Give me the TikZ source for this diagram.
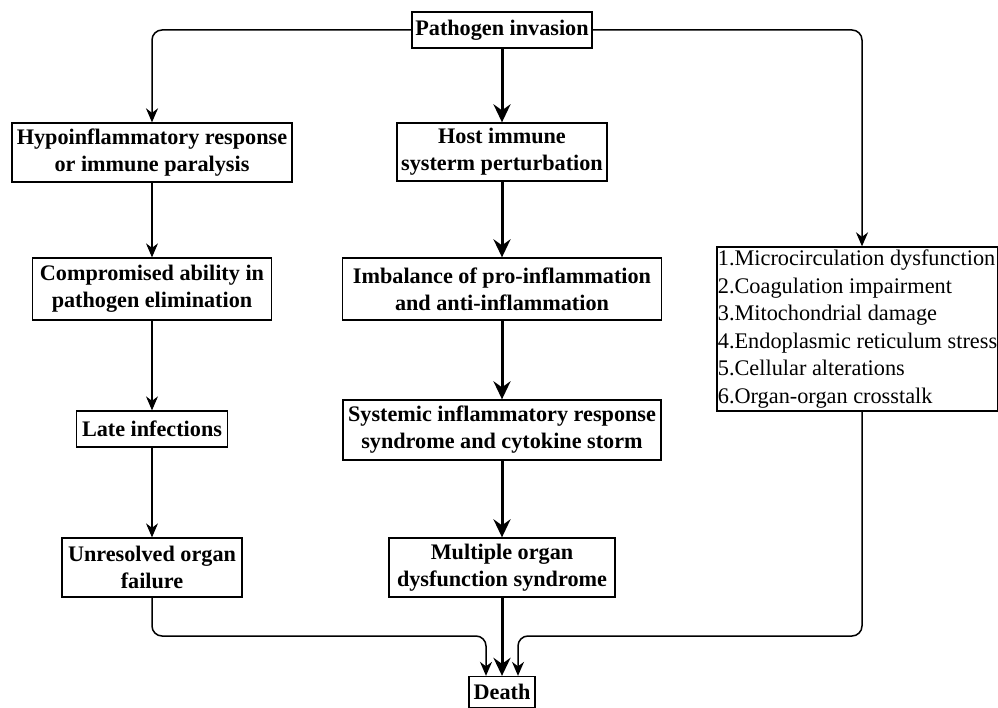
\documentclass[tikz,border=0pt]{standalone}
\usepackage{fontspec}
\setmainfont{Liberation Serif}
\usetikzlibrary{arrows.meta}
\begin{document}
\begin{tikzpicture}[x=1pt,y=-1pt,
  box/.style={draw,line width=1.3pt,inner sep=0pt,align=center,font=\fontsize{22.2}{27}\selectfont\bfseries},
  thickarrow/.style={line width=3pt,-{Stealth[length=18pt,width=17pt,inset=6pt]}},
  thinarrow/.style={line width=1.1pt,-{Stealth[length=14pt,width=12pt,inset=4.5pt]}},
  sidearrow/.style={line width=1.5pt,rounded corners=10pt,-{Stealth[length=14pt,width=12pt,inset=4.5pt]}}]
\useasboundingbox (0,0) rectangle (998,708);
\node[box,minimum width=180,minimum height=36] (path) at (502,30) {Pathogen invasion};
\node[box,minimum width=280,minimum height=59] (hypo) at (152,152.5) {Hypoinflammatory response\\or immune paralysis};
\node[box,minimum width=210,minimum height=58] (host) at (502,152) {Host immune\\systerm perturbation};
\node[box,minimum width=239,minimum height=62] (comp) at (152,289) {Compromised ability in\\pathogen elimination};
\node[box,minimum width=319,minimum height=62] (imb) at (502,289) {Imbalance of pro-inflammation\\and anti-inflammation};
\node[box,minimum width=151,minimum height=36] (late) at (152,429) {Late infections};
\node[box,minimum width=318,minimum height=60] (sirs) at (502,430) {Systemic inflammatory response\\syndrome and cytokine storm};
\node[box,minimum width=180,minimum height=59] (unres) at (152,567.5) {Unresolved organ\\failure};
\node[box,minimum width=226,minimum height=59] (mods) at (502,567.5) {Multiple organ\\dysfunction syndrome};
\node[box,minimum width=66,minimum height=31] (death) at (502,692) {Death};
\node[draw,line width=1.3pt,inner sep=0pt,minimum width=280,minimum height=164,align=left,font=\fontsize{22.3}{27.5}\selectfont] (mech) at (857,329) {\hspace*{1pt}1.Microcirculation dysfunction\\\hspace*{1pt}2.Coagulation impairment\\\hspace*{1pt}3.Mitochondrial damage\\\hspace*{1pt}4.Endoplasmic reticulum stress\\\hspace*{1pt}5.Cellular alterations\\\hspace*{1pt}6.Organ-organ crosstalk};
\coordinate (mtop) at ([xshift=5]mech.north);
\coordinate (mbot) at ([xshift=5]mech.south);
\coordinate (dl) at ([xshift=-16]death.north);
\coordinate (dr) at ([xshift=16]death.north);
\coordinate (yline) at (0,636);
% center column
\draw[thickarrow] (path) -- (host);
\draw[thickarrow] (host) -- (imb);
\draw[thickarrow] (imb) -- (sirs);
\draw[thickarrow] (sirs) -- (mods);
\draw[thickarrow] (mods) -- (death);
% left column
\draw[thinarrow] (hypo) -- (comp);
\draw[thinarrow] (comp) -- (late);
\draw[thinarrow] (late) -- (unres);
% side branches
\draw[sidearrow] (path.west) -| (hypo.north);
\draw[sidearrow] (path.east) -| (mtop);
\draw[sidearrow] (unres.south) |- (dl |- yline) -- (dl);
\draw[sidearrow] (mbot) |- (dr |- yline) -- (dr);
\end{tikzpicture}
\end{document}
